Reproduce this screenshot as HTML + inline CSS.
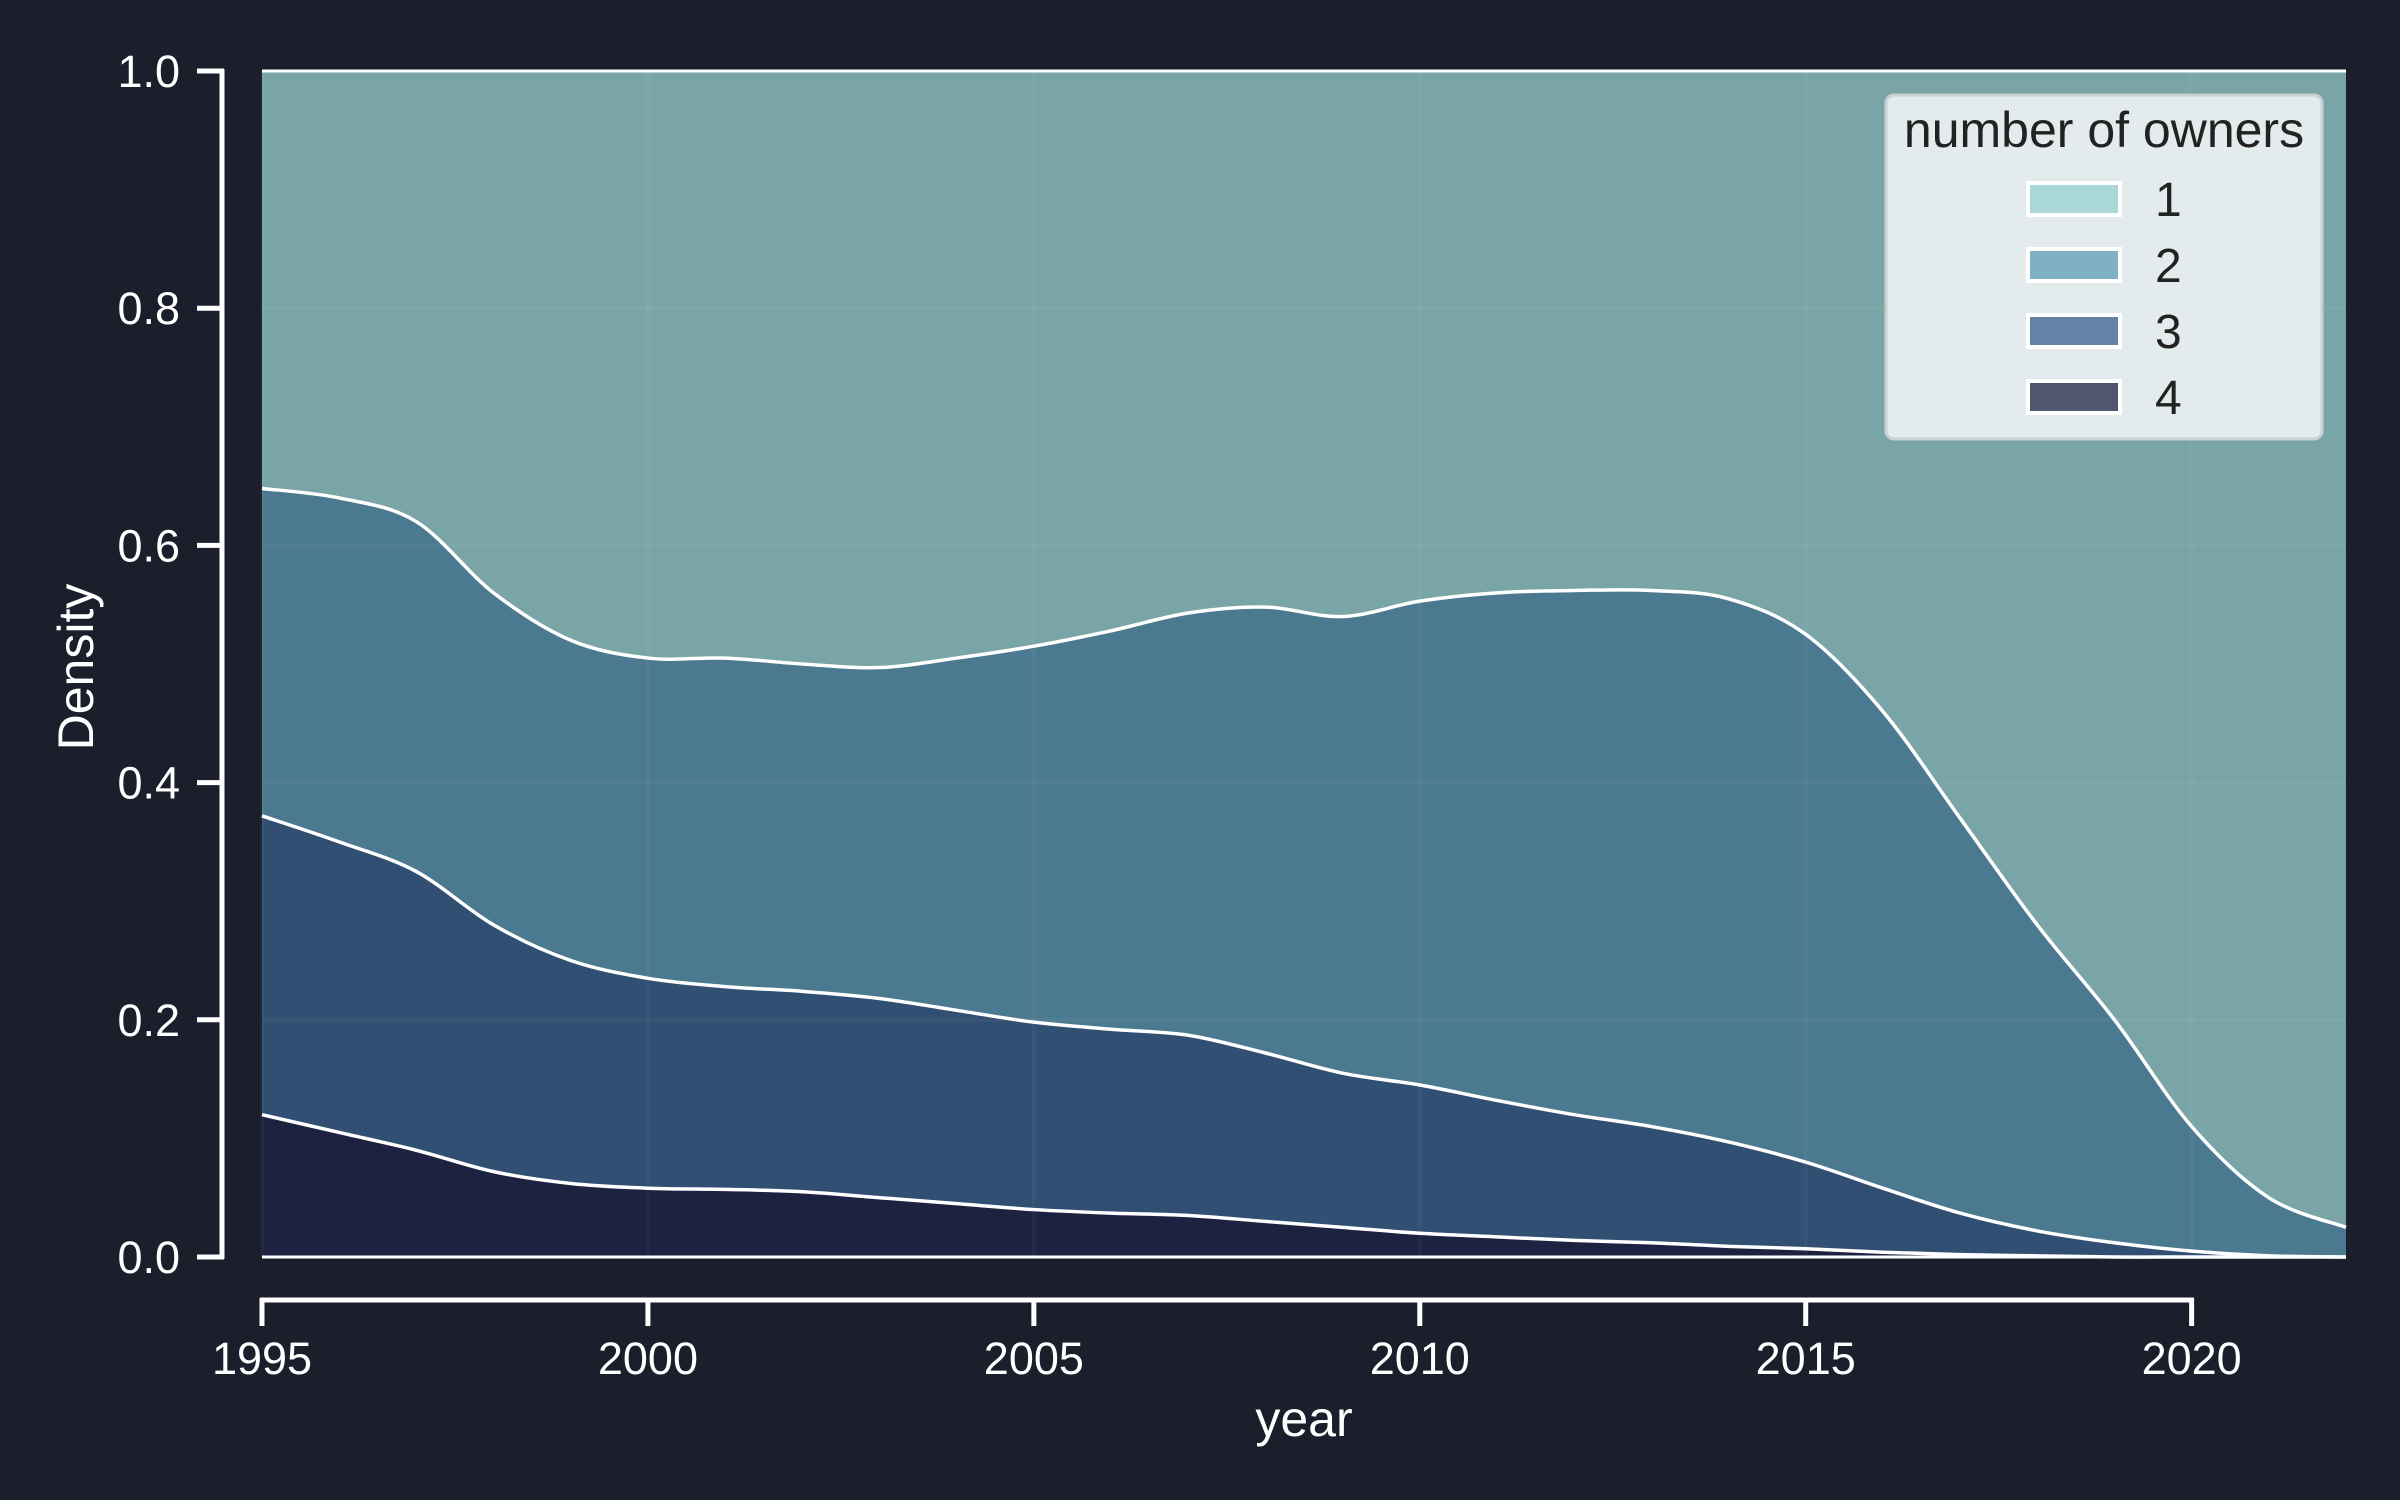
<!DOCTYPE html>
<html><head><meta charset="utf-8"><style>
html,body{margin:0;padding:0;background:#1b1f2b;}
svg{display:block;font-family:"Liberation Sans",sans-serif;}
</style></head><body>
<svg id="chart" width="2400" height="1500" viewBox="0 0 2400 1500" xmlns="http://www.w3.org/2000/svg">
<rect width="2400" height="1500" fill="#1b1f2b"/>
<g id="plot"></g>
<g id="axes"></g>
<text x="76" y="667" transform="rotate(-90 76 667)" text-anchor="middle" dominant-baseline="central" font-size="50" fill="#ffffff">Density</text>
<text x="1304" y="1436" text-anchor="middle" font-size="50" fill="#ffffff">year</text>
<g>
<rect x="1886" y="95" width="436" height="344" rx="8" fill="#e3ebec" stroke="#c8d0d2" stroke-width="3"/>
<text x="2104" y="147" text-anchor="middle" font-size="50" fill="#222">number of owners</text>
<g id="legend-items"></g>
</g>
</svg>
<script>
const years = [1995,1996,1997,1998,1999,2000,2001,2002,2003,2004,2005,2006,2007,2008,2009,2010,2011,2012,2013,2014,2015,2016,2017,2018,2019,2020,2021,2022];
// cumulative boundaries (top of stack for owners 4, 3, 2)
const top4 = [0.12,0.105,0.09,0.072,0.062,0.058,0.057,0.055,0.05,0.045,0.04,0.037,0.035,0.03,0.025,0.02,0.017,0.014,0.012,0.009,0.007,0.004,0.002,0.001,0,0,0,0];
const top3 = [0.372,0.35,0.325,0.28,0.25,0.235,0.228,0.224,0.218,0.208,0.198,0.192,0.187,0.172,0.155,0.145,0.132,0.12,0.11,0.097,0.08,0.058,0.037,0.022,0.012,0.005,0.001,0];
const top2 = [0.648,0.64,0.62,0.56,0.52,0.505,0.505,0.5,0.497,0.505,0.515,0.528,0.543,0.548,0.54,0.553,0.56,0.562,0.562,0.555,0.525,0.46,0.37,0.28,0.2,0.11,0.05,0.025];
const yTicks = [0,0.2,0.4,0.6,0.8,1.0];
const yTickLabels = ["0.0","0.2","0.4","0.6","0.8","1.0"];
const xTicks = [1995,2000,2005,2010,2015,2020];
const legendLabels = ["1","2","3","4"];

const NS="http://www.w3.org/2000/svg";
const X0=262,X1=2346,Y0=1257,Y1=71;
const xs=v=>X0+(v-1995)/(2022-1995)*(X1-X0);
const ys=v=>Y0-(v)*(Y0-Y1);
function mk(tag,attrs,parent){const e=document.createElementNS(NS,tag);for(const k in attrs)e.setAttribute(k,attrs[k]);parent.appendChild(e);return e;}
function smooth(vals){
  const p=vals.map((v,i)=>[xs(years[i]),ys(v)]);
  let d="M"+p[0][0]+","+p[0][1];
  for(let i=0;i<p.length-1;i++){
    const a=p[Math.max(0,i-1)],b=p[i],c=p[i+1],e=p[Math.min(p.length-1,i+2)];
    const c1=[b[0]+(c[0]-a[0])/6,b[1]+(c[1]-a[1])/6],c2=[c[0]-(e[0]-b[0])/6,c[1]-(e[1]-b[1])/6];
    d+=" C"+c1[0]+","+c1[1]+" "+c2[0]+","+c2[1]+" "+c[0]+","+c[1];
  }
  return d;
}
const plot=document.getElementById('plot');
const bg=mk('rect',{x:X0,y:Y1,width:X1-X0,height:Y0-Y1,fill:'#79a5a6'},plot);


const layers=[[top2,'#4b7a90','area-owners-2'],[top3,'#314f72','area-owners-3'],[top4,'#1d2240','area-owners-4']];
layers.forEach(([vals,col,name])=>{
  const a=mk('path',{d:smooth(vals)+` L${X1},${Y0} L${X0},${Y0} Z`,fill:col},plot);
  
  
});
xTicks.forEach(t=>{const g=mk('line',{x1:xs(t),x2:xs(t),y1:Y1,y2:Y0,stroke:'#ffffff','stroke-opacity':0.035,'stroke-width':4},plot);

});
yTicks.forEach(t=>{const g=mk('line',{x1:X0,x2:X1,y1:ys(t),y2:ys(t),stroke:'#ffffff','stroke-opacity':0.035,'stroke-width':4},plot);

});
layers.forEach(([vals,col,name])=>{
  const l=mk('path',{d:smooth(vals),fill:'none',stroke:'#ffffff','stroke-width':3.5},plot);
  
  
});
const tl=mk('line',{x1:X0,x2:X1,y1:Y1,y2:Y1,stroke:'#fff','stroke-width':3},plot);


const bl=mk('line',{x1:X0,x2:X1,y1:Y0,y2:Y0,stroke:'#fff','stroke-width':3},plot);



const axes=document.getElementById('axes');
const ya=mk('line',{x1:222,x2:222,y1:Y1-2,y2:Y0+2,stroke:'#fff','stroke-width':5},axes);


yTicks.forEach((t,i)=>{
  const k=mk('line',{x1:197,x2:224,y1:ys(t),y2:ys(t),stroke:'#fff','stroke-width':5},axes);
  
  
  const tx=mk('text',{x:180,y:ys(t)+16,'text-anchor':'end','font-size':45,fill:'#fff'},axes);
  tx.textContent=yTickLabels[i];
  
  
});
const xa=mk('line',{x1:xs(1995)-2,x2:xs(2020)+2,y1:1300,y2:1300,stroke:'#fff','stroke-width':5},axes);


xTicks.forEach(t=>{
  const k=mk('line',{x1:xs(t),x2:xs(t),y1:1298,y2:1326,stroke:'#fff','stroke-width':5},axes);
  
  
  const tx=mk('text',{x:xs(t),y:1374,'text-anchor':'middle','font-size':45,fill:'#fff'},axes);
  tx.textContent=String(t);
  
  
});
const lg=document.getElementById('legend-items');
const lcols=['#aad8d8','#7fb0c4','#6482a6','#4f576f'];
legendLabels.forEach((lab,i)=>{
  const cy=199+i*66;
  const r=mk('rect',{x:2028,y:cy-16,width:92,height:32,fill:lcols[i],stroke:'#fff','stroke-width':4},lg);
  
  
  const t=mk('text',{x:2155,y:cy+17,'font-size':48,fill:'#222'},lg);
  t.textContent=lab;
  
  
});
</script>
</body></html>
